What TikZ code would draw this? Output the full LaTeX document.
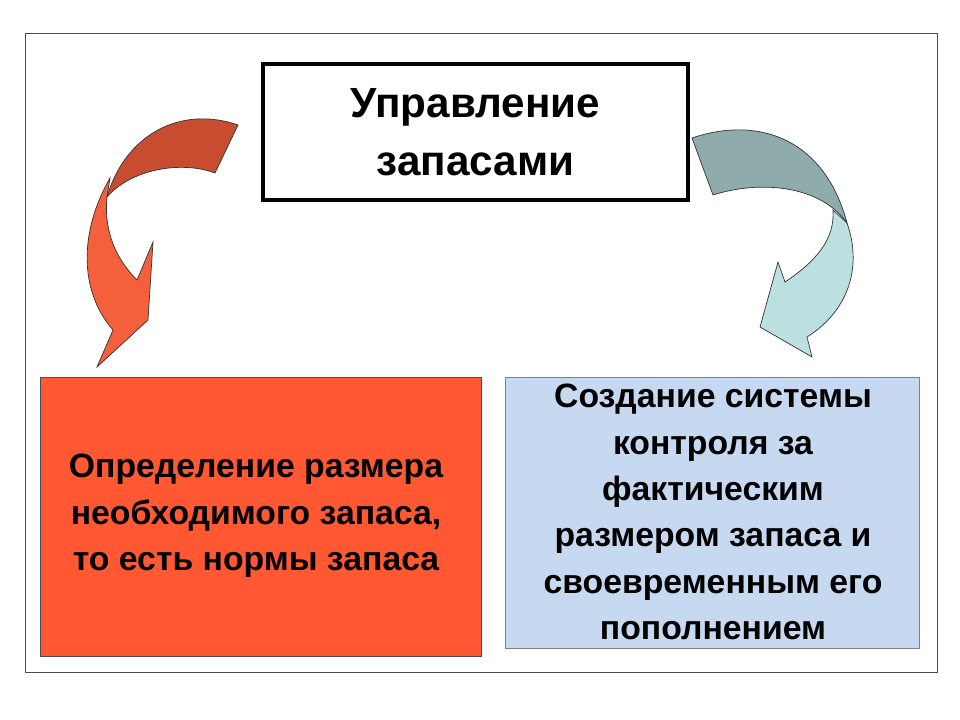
\documentclass[tikz,border=0pt]{standalone}
\usepackage{fontspec}
\setmainfont{Liberation Sans}
\begin{document}
\begin{tikzpicture}[x=0.025cm,y=-0.025cm,
  txt/.style={font=\bfseries\fontsize{24}{33}\selectfont,align=center},
  arr/.style={draw=black!80,line width=0.5pt}]
\useasboundingbox (0,0) rectangle (960,720);
\draw[line width=0.6pt,draw=black!70] (25,33) rectangle (937,672);
\node[draw,line width=2.2pt,minimum width=425*0.025cm,minimum height=136*0.025cm,
  font=\bfseries\fontsize{30}{41}\selectfont,align=center] (top) at (475.5,132) {Управление\\запасами};
\node[draw=black!70,fill={rgb,255:red,255;green,88;blue,51},minimum width=441*0.025cm,minimum height=279*0.025cm,inner sep=0pt] (left) at (260.5,516.5) {};
\node[txt] at (256,516) {Определение размера\\необходимого запаса,\\то есть нормы запаса};
\node[draw=black!50,fill={rgb,255:red,198;green,217;blue,241},minimum width=414*0.025cm,minimum height=271*0.025cm,inner sep=0pt] (right) at (712,512.5) {};
\node[txt] at (713,512) {Создание системы\\контроля за\\фактическим\\размером запаса и\\своевременным его\\пополнением};
% left arrow
\draw[arr,fill={rgb,255:red,244;green,96;blue,60}] (110,178) .. controls (80,230) and (78,290) .. (113,330) -- (97,367) -- (148,320) -- (153,242) -- (137,280) .. controls (112,255) and (104,225) .. (107,197) -- cycle;
\draw[arr,fill={rgb,255:red,200;green,76;blue,48}] (238,125) .. controls (180,105) and (125,135) .. (107,197) .. controls (130,170) and (180,160) .. (215,173) -- cycle;
% right arrow
\draw[arr,fill={rgb,255:red,188;green,224;blue,224}] (847,223) .. controls (862,265) and (850,310) .. (807,337) -- (812,357) -- (760,327) -- (778,262) -- (785,282) .. controls (815,262) and (835,240) .. (833,210) -- cycle;
\draw[arr,fill={rgb,255:red,143;green,171;blue,171}] (692,138) .. controls (760,115) and (825,140) .. (847,223) .. controls (820,185) and (760,180) .. (713,195) -- cycle;
\end{tikzpicture}
\end{document}
